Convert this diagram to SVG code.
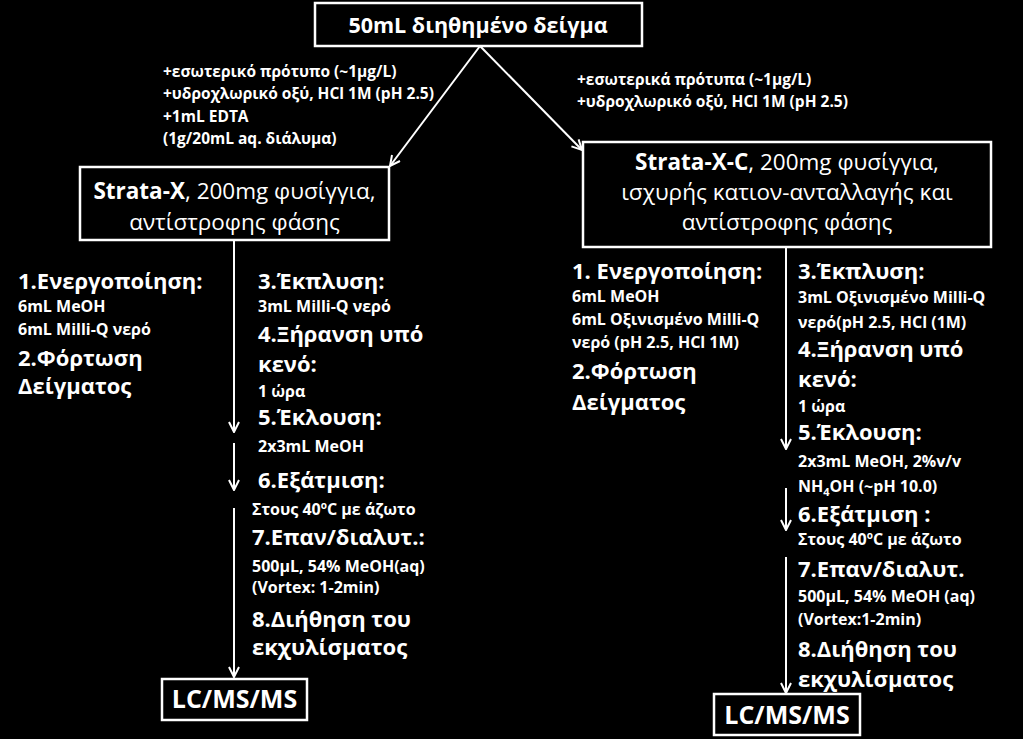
<svg xmlns="http://www.w3.org/2000/svg" width="1023" height="739" viewBox="0 0 1023 739">
<defs>
<style>
text{fill:#fff;font-family:"Open Sans","Noto Sans","DejaVu Sans",sans-serif}
.box{fill:#000;stroke:#fff;stroke-width:2.5}
.ln{stroke:#fff;stroke-width:2;fill:none}
.t{font-size:21.5px;font-weight:700}
.b{font-size:22.5px;font-weight:400}
.a{font-size:15.5px;font-weight:700}
.h{font-size:22px;font-weight:700}
.s{font-size:16px;font-weight:700}
.lc{font-size:25px;font-weight:700}
.m{text-anchor:middle}
</style>
<marker id="ah" viewBox="0 0 12 12" refX="11" refY="6" markerWidth="12" markerHeight="12" markerUnits="userSpaceOnUse" orient="auto">
<path d="M1,1 L11,6 L1,11" fill="none" stroke="#fff" stroke-width="2"/>
</marker>
</defs>
<rect width="1023" height="739" fill="#000"/>
<g id="connectors">
<line class="ln" x1="480" y1="46" x2="390" y2="166" marker-end="url(#ah)"/>
<line class="ln" x1="480" y1="46" x2="582" y2="150" marker-end="url(#ah)"/>
<line class="ln" x1="234" y1="240" x2="234" y2="432" marker-end="url(#ah)"/>
<line class="ln" x1="234" y1="443" x2="234" y2="490" marker-end="url(#ah)"/>
<line class="ln" x1="234" y1="508" x2="234" y2="677" marker-end="url(#ah)"/>
<line class="ln" x1="786" y1="247" x2="786" y2="449" marker-end="url(#ah)"/>
<line class="ln" x1="786" y1="488" x2="786" y2="530" marker-end="url(#ah)"/>
<line class="ln" x1="786" y1="557" x2="786" y2="693" marker-end="url(#ah)"/>
</g>
<g id="sample">
<rect class="box" x="315" y="3" width="327" height="43"/>
<text class="t m" x="478" y="33">50mL διηθημένο δείγμα</text>
</g>
<g id="label-left">
<text class="a" x="163" y="77">+εσωτερικό πρότυπο (~1μg/L)</text>
<text class="a" x="163" y="99">+υδροχλωρικό οξύ, HCl 1M (pH 2.5)</text>
<text class="a" x="163" y="122">+1mL EDTA</text>
<text class="a" x="163" y="144">(1g/20mL aq. διάλυμα)</text>
</g>
<g id="label-right">
<text class="a" x="577" y="85">+εσωτερικά πρότυπα (~1μg/L)</text>
<text class="a" x="577" y="107">+υδροχλωρικό οξύ, HCl 1M (pH 2.5)</text>
</g>
<g id="strata-x">
<rect class="box" x="80" y="167" width="309" height="73"/>
<text class="b m" x="234.5" y="199"><tspan font-weight="700">Strata-X</tspan>, 200mg φυσίγγια,</text>
<text class="b m" x="234.5" y="230">αντίστροφης φάσης</text>
</g>
<g id="strata-xc">
<rect class="box" x="583" y="142" width="408" height="105"/>
<text class="b m" x="787" y="170"><tspan font-weight="700">Strata-X-C</tspan>, 200mg φυσίγγια,</text>
<text class="b m" x="787" y="200">ισχυρής κατιον-ανταλλαγής  και</text>
<text class="b m" x="787" y="230">αντίστροφης φάσης</text>
</g>
<g id="steps-left-1">
<text class="h" x="18" y="289">1.Ενεργοποίηση:</text>
<text class="s" x="18" y="312">6mL MeOH</text>
<text class="s" x="18" y="335">6mL Milli-Q νερό</text>
<text class="h" x="18" y="366">2.Φόρτωση</text>
<text class="h" x="18" y="394">Δείγματος</text>
</g>
<g id="steps-left-2">
<text class="h" x="258" y="289">3.Έκπλυση:</text>
<text class="s" x="258" y="312">3mL Milli-Q νερό</text>
<text class="h" x="258" y="342">4.Ξήρανση υπό</text>
<text class="h" x="258" y="372">κενό:</text>
<text class="s" x="258" y="397">1 ώρα</text>
<text class="h" x="258" y="425">5.Έκλουση:</text>
<text class="s" x="258" y="452">2x3mL MeOH</text>
<text class="h" x="258" y="488">6.Εξάτμιση:</text>
<text class="s" x="252" y="515">Στους 40<tspan font-size="10" dy="-6">o</tspan><tspan dy="6">C με άζωτο</tspan></text>
<text class="h" x="252" y="545">7.Επαν/διαλυτ.:</text>
<text class="s" x="252" y="572">500μL, 54% MeOH(aq)</text>
<text class="s" x="252" y="593">(Vortex: 1-2min)</text>
<text class="h" x="252" y="627">8.Διήθηση του</text>
<text class="h" x="252" y="655">εκχυλίσματος</text>
</g>
<g id="lcms-left">
<rect class="box" x="162" y="679" width="145" height="41"/>
<text class="lc m" x="234.5" y="708">LC/MS/MS</text>
</g>
<g id="steps-right-1">
<text class="h" x="572" y="279">1. Ενεργοποίηση:</text>
<text class="s" x="572" y="302">6mL MeOH</text>
<text class="s" x="572" y="325">6mL Οξινισμένο Milli-Q</text>
<text class="s" x="572" y="348">νερό (pH 2.5, HCl 1M)</text>
<text class="h" x="572" y="379">2.Φόρτωση</text>
<text class="h" x="572" y="410">Δείγματος</text>
</g>
<g id="steps-right-2">
<text class="h" x="798" y="279">3.Έκπλυση:</text>
<text class="s" x="798" y="303">3mL Οξινισμένο Milli-Q</text>
<text class="s" x="798" y="328">νερό(pH 2.5, HCl (1M)</text>
<text class="h" x="798" y="357">4.Ξήρανση υπό</text>
<text class="h" x="798" y="387">κενό:</text>
<text class="s" x="798" y="412">1 ώρα</text>
<text class="h" x="798" y="440">5.Έκλουση:</text>
<text class="s" x="798" y="467">2x3mL MeOH, 2%v/v</text>
<text class="s" x="798" y="492">NH<tspan font-size="11" dy="4">4</tspan><tspan dy="-4">OH (~pH 10.0)</tspan></text>
<text class="h" x="798" y="522">6.Εξάτμιση :</text>
<text class="s" x="798" y="545">Στους 40<tspan font-size="10" dy="-6">o</tspan><tspan dy="6">C με άζωτο</tspan></text>
<text class="h" x="798" y="577">7.Επαν/διαλυτ.</text>
<text class="s" x="798" y="602">500μL, 54% MeOH (aq)</text>
<text class="s" x="798" y="625">(Vortex:1-2min)</text>
<text class="h" x="798" y="657">8.Διήθηση του</text>
<text class="h" x="798" y="687">εκχυλίσματος</text>
</g>
<g id="lcms-right">
<rect class="box" x="714" y="694" width="146" height="41"/>
<text class="lc m" x="787" y="724">LC/MS/MS</text>
</g>
</svg>
